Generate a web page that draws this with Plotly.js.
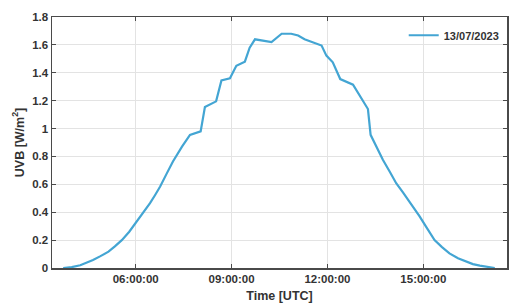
<!DOCTYPE html>
<html>
<head>
<meta charset="utf-8">
<script src="https://cdn.plot.ly/plotly-3.0.1.min.js"></script>
<style>html,body{margin:0;padding:0;background:#fff;}#chart{width:517px;height:305px;}</style>
</head>
<body>
<div id="chart"></div>
<script>
const seriesName = "13/07/2023";
const times = [
  "2023-07-13 03:44","2023-07-13 04:00","2023-07-13 04:16","2023-07-13 04:30","2023-07-13 04:40",
  "2023-07-13 04:54","2023-07-13 05:09","2023-07-13 05:21","2023-07-13 05:34","2023-07-13 05:48",
  "2023-07-13 06:02","2023-07-13 06:15","2023-07-13 06:27","2023-07-13 06:36","2023-07-13 06:46",
  "2023-07-13 06:58","2023-07-13 07:10","2023-07-13 07:27","2023-07-13 07:42",
  "2023-07-13 08:02","2023-07-13 08:10","2023-07-13 08:31","2023-07-13 08:41","2023-07-13 08:57",
  "2023-07-13 09:09","2023-07-13 09:25","2023-07-13 09:34","2023-07-13 09:44","2023-07-13 10:15",
  "2023-07-13 10:34","2023-07-13 10:52","2023-07-13 11:05","2023-07-13 11:17","2023-07-13 11:49",
  "2023-07-13 11:58","2023-07-13 12:10","2023-07-13 12:24","2023-07-13 12:48","2023-07-13 13:16",
  "2023-07-13 13:21","2023-07-13 13:33","2023-07-13 13:44","2023-07-13 13:57","2023-07-13 14:09",
  "2023-07-13 14:22","2023-07-13 14:34","2023-07-13 14:53","2023-07-13 15:05","2023-07-13 15:21",
  "2023-07-13 15:35","2023-07-13 15:49","2023-07-13 16:05","2023-07-13 16:20","2023-07-13 16:33",
  "2023-07-13 16:46","2023-07-13 17:00","2023-07-13 17:14"
];
const uvb = [
  0, 0.006, 0.02, 0.04, 0.057,
  0.085, 0.117, 0.155, 0.2, 0.26,
  0.333, 0.40, 0.465, 0.52, 0.584,
  0.675, 0.764, 0.87, 0.955,
  0.98, 1.155, 1.195, 1.345, 1.36,
  1.45, 1.48, 1.58, 1.64, 1.62,
  1.68, 1.68, 1.667, 1.64, 1.595,
  1.523, 1.475, 1.355, 1.315, 1.14,
  0.955, 0.86, 0.776, 0.69, 0.608,
  0.54, 0.476, 0.37, 0.297, 0.2,
  0.15, 0.105, 0.07, 0.045, 0.028,
  0.017, 0.006, 0
];
const xTicks = ["2023-07-13 06:00","2023-07-13 09:00","2023-07-13 12:00","2023-07-13 15:00"];
const xRange = ["2023-07-13 03:23","2023-07-13 17:37"];
const yTicks = [0,0.2,0.4,0.6,0.8,1,1.2,1.4,1.6,1.8];
const yTickText = ["0","0.2","0.4","0.6","0.8","1","1.2","1.4","1.6","1.8"];

const fontFam = "Liberation Sans, Arial, sans-serif";
const trace = {
  x: times, y: uvb, type: "scatter", mode: "lines", name: seriesName,
  line: {color: "#43a5d3", width: 2.2}
};
const axisCommon = {
  showline: true, linecolor: "#4a4a4a", linewidth: 1.5, mirror: "ticks",
  ticks: "inside", ticklen: 4, tickwidth: 1, tickcolor: "#4a4a4a",
  showgrid: true, gridcolor: "#e3e3e3", gridwidth: 1, zeroline: false,
  tickfont: {family: fontFam, size: 11.5, color: "#333", weight: "bold"}
};
const layout = {
  width: 517, height: 305,
  margin: {l: 52, r: 10, t: 17, b: 37},
  paper_bgcolor: "#fff", plot_bgcolor: "#fff",
  showlegend: true,
  legend: {x: 0.995, xanchor: "right", y: 0.985, yanchor: "top", bgcolor: "rgba(0,0,0,0)",
           itemwidth: 30,
           font: {family: fontFam, size: 11, color: "#333", weight: "bold"}},
  xaxis: Object.assign({}, axisCommon, {
    type: "date", range: xRange, tickmode: "array", tickvals: xTicks, tickformat: "%H:%M:%S",
    title: {text: "Time [UTC]", standoff: 7, font: {family: fontFam, size: 12.5, color: "#333", weight: "bold"}}
  }),
  yaxis: Object.assign({}, axisCommon, {
    range: [0, 1.8], tickmode: "array", tickvals: yTicks, ticktext: yTickText,
    title: {text: "UVB [W/m<sup>2</sup>]", standoff: 5, font: {family: fontFam, size: 12.5, color: "#333", weight: "bold"}}
  })
};
Plotly.newPlot("chart", [trace], layout, {displayModeBar: false, staticPlot: true});
</script>
</body>
</html>
